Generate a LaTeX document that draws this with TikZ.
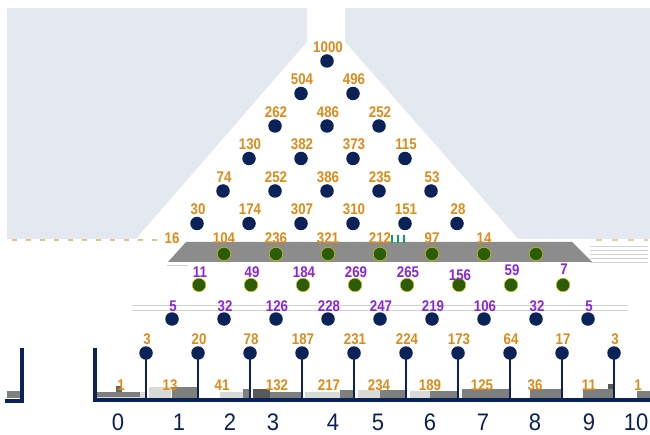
\documentclass[tikz,border=0pt]{standalone}
\usepackage{fontspec}
\setmainfont{Liberation Sans}
\newfontfamily\lblfont[FakeStretch=0.86]{Liberation Sans}
\newfontfamily\binfont[FakeStretch=0.92]{Liberation Sans}
\definecolor{bgblue}{HTML}{E4E9F1}
\definecolor{navy}{HTML}{0A2258}
\definecolor{org}{HTML}{E08A17}
\definecolor{purp}{HTML}{8A24E0}
\definecolor{grn}{HTML}{2B5C0A}
\definecolor{bandgray}{HTML}{8C8C8C}
\definecolor{lgray}{HTML}{D9D9D9}
\definecolor{dgray}{HTML}{7F7F7F}
\tikzset{
  peg/.style={circle, fill=navy, inner sep=0pt, minimum size=13.5bp},
  gpeg/.style={circle, fill=grn, draw=yellow!60!olive, line width=0.5bp, inner sep=0pt, minimum size=13.5bp},
  cnt/.style={text=org, font=\lblfont\bfseries\fontsize{15.5}{15.5}\selectfont, inner sep=0pt},
  pcnt/.style={text=purp, font=\lblfont\bfseries\fontsize{15.5}{15.5}\selectfont, inner sep=0pt},
  binlbl/.style={text=navy, font=\binfont\fontsize{24}{24}\selectfont, inner sep=0pt},
  stem/.style={navy, line width=2bp},
  wall/.style={navy, line width=3.4bp, line join=miter, line cap=rect},
  glitch/.style={gray!35, line width=0.8bp}
}
\begin{document}
\begin{tikzpicture}[x=1bp,y=-1bp]
\useasboundingbox (0,0) rectangle (650,435);
\fill[white] (0,0) rectangle (650,435);
% background and funnel
\fill[bgblue] (7,8) rectangle (650,239);
\fill[white] (307,8) -- (345,8) -- (345,42) -- (518,239) -- (136,239) -- (307,42) -- cycle;
% glitch fragments along row 6
\draw[org!55, line width=1.5bp, dash pattern=on 5bp off 9bp] (12,240) -- (160,240);
\draw[org!45, line width=1.2bp, dash pattern=on 6bp off 10bp] (596,240) -- (648,240);
\foreach \yy in {246,250,254,258,262} \draw[glitch] (590,\yy) -- (648,\yy);
% gray band
\fill[bandgray] (186,242) -- (572,242) -- (592,262) -- (168,262) -- cycle;
\draw[glitch] (167,265) -- (188,265);
\foreach \xx in {392,398,404} \draw[teal!70!green, line width=1.2bp] (\xx,235) -- (\xx,243);
% glitch lines near row 8
\draw[glitch] (132,305) -- (628,305);
\draw[glitch] (132,310) -- (628,310);

% rows 0-5
\foreach \r/\vals in {0/{1000},1/{504,496},2/{262,486,252},3/{130,382,373,115},4/{74,252,386,235,53},5/{30,174,307,310,151,28}}{
  \foreach \v [count=\i from 0] in \vals {
    \node[peg] (p\r-\i) at ({327+52*(\i-\r/2)},{61+32.5*\r}) {};
    \node[cnt] (c\r-\i) at ({328+52*(\i-\r/2)},{47+32.5*\r}) {\v};
  }
}
% row 6
\foreach \v [count=\i from 0] in {16,104,236,321,212,97,14}{
  \node[cnt] (c6-\i) at ({172+52*\i},238) {\v};
  \node[gpeg] (p6-\i) at ({224+52*\i},254) {};
}
% row 7
\foreach \v/\dy [count=\i from 0] in {11/0,49/0,184/0,269/0,265/0,156/3,59/-2,7/-3}{
  \node[gpeg] (p7-\i) at ({199+52*\i},285) {};
  \node[pcnt] (c7-\i) at ({200+52*\i},{272+\dy}) {\v};
}
% row 8
\foreach \v [count=\i from 0] in {5,32,126,228,247,219,106,32,5}{
  \node[peg] (p8-\i) at ({172+52*\i},319) {};
  \node[pcnt] (c8-\i) at ({173+52*\i},306) {\v};
}
% histogram bars (gray)
\fill[lgray] (97,392) rectangle (145,398);
\fill[dgray] (97,392) rectangle (140,397);
\fill[dgray!80!black] (116,386) rectangle (122,392);
\fill[lgray] (149,387) rectangle (171,398);
\fill[dgray] (172,387) rectangle (197,398);
\fill[lgray] (220,392) rectangle (243,398);
\fill[dgray] (243,389) rectangle (249,398);
\fill[dgray!70!black] (253,389) rectangle (270,398);
\fill[dgray] (270,392) rectangle (301,398);
\fill[lgray] (305,392) rectangle (340,398);
\fill[dgray] (340,390) rectangle (353,398);
\fill[lgray] (358,390) rectangle (380,398);
\fill[dgray] (380,390) rectangle (405,398);
\fill[lgray] (410,391) rectangle (430,398);
\fill[dgray] (430,391) rectangle (457,398);
\fill[dgray] (462,389) rectangle (509,398);
\fill[dgray] (530,389) rectangle (561,398);
\fill[dgray] (583,389) rectangle (613,398);
\fill[dgray!70!black] (608,384) rectangle (613,389);
\fill[dgray] (637,391) rectangle (650,398);
\fill[dgray] (7,391) rectangle (20,398);
% bin counts
\foreach \v/\xx [count=\i from 0] in {1/121,13/170,41/222,132/277,217/329,234/379,189/430,125/482,36/535,11/589,1/638}{
  \node[cnt] (b\i) at (\xx,385) {\v};
}
% walls and baseline
\coordinate (wtop) at (95,350);
\coordinate (wcorner) at (95,400);
\coordinate (wend) at (650,400);
\draw[wall] (wtop) -- (wcorner) -- (wend);
\coordinate (ltop) at (22,350);
\coordinate (lcorner) at (22,401);
\coordinate (lend) at (7,401);
\draw[wall] (ltop) -- (lcorner) -- (lend);
% row 9 with stems
\foreach \v [count=\i from 0] in {3,20,78,187,231,224,173,64,17,3}{
  \coordinate (s\i) at ({146+52*\i},400);
  \node[peg] (p9-\i) at ({146+52*\i},353) {};
  \draw[stem] (p9-\i.center) -- (s\i);
  \node[cnt] (c9-\i) at ({147+52*\i},339) {\v};
}
% bin labels
\foreach \v/\xx in {0/118,1/179,2/230,3/273,4/333,5/378,6/430,7/483,8/535,9/589,10/636}{
  \node[binlbl] (n\v) at (\xx,422) {\v};
}
\end{tikzpicture}
\end{document}
